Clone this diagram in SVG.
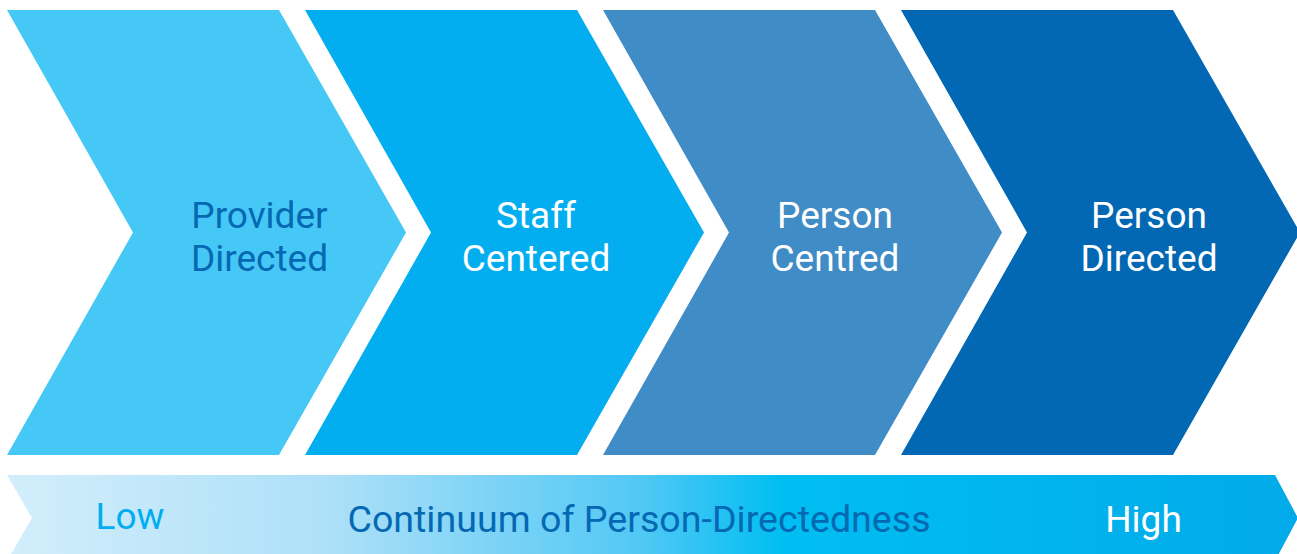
<svg xmlns="http://www.w3.org/2000/svg" width="1297" height="554" viewBox="0 0 1297 554">
  <style>
    .lbl { font-family: Roboto, "Liberation Sans", sans-serif; font-size: 37px; text-anchor: middle; }
    .dark { fill: #0568B3; }
    .white { fill: #FFFFFF; }
  </style>
  <defs>
    <linearGradient id="barGrad" x1="7" y1="0" x2="1298" y2="0" gradientUnits="userSpaceOnUse">
      <stop offset="0" stop-color="#D3EEFB"/>
      <stop offset="0.25" stop-color="#ADE0F8"/>
      <stop offset="0.49" stop-color="#52C8F4"/>
      <stop offset="0.6" stop-color="#00BEF2"/>
      <stop offset="1" stop-color="#02AAE9"/>
    </linearGradient>
  </defs>
  <rect width="1297" height="554" fill="#FFFFFF"/>

  <g id="node-provider-directed">
    <polygon points="7,10 279,10 406,232.5 279,455 7,455 133,232.5" fill="#45C8F5"/>
    <text class="lbl dark" x="259.5" y="228">Provider</text>
    <text class="lbl dark" x="259.5" y="271">Directed</text>
  </g>
  <g id="node-staff-centered">
    <polygon points="305,10 577,10 704,232.5 577,455 305,455 431,232.5" fill="#02AEEF"/>
    <text class="lbl white" x="536" y="228">Staff</text>
    <text class="lbl white" x="536" y="271">Centered</text>
  </g>
  <g id="node-person-centred">
    <polygon points="603,10 875,10 1002,232.5 875,455 603,455 729,232.5" fill="#408CC6"/>
    <text class="lbl white" x="835" y="228">Person</text>
    <text class="lbl white" x="835" y="271">Centred</text>
  </g>
  <g id="node-person-directed">
    <polygon points="901,10 1173,10 1300,232.5 1173,455 901,455 1027,232.5" fill="#0268B4"/>
    <text class="lbl white" x="1149" y="228">Person</text>
    <text class="lbl white" x="1149" y="271">Directed</text>
  </g>

  <g id="continuum-bar">
    <polygon points="7,475 1275,475 1298,518 1275,561 7,561 32,518" fill="url(#barGrad)"/>
    <text class="lbl" x="95.5" y="529" style="text-anchor:start" fill="#00AEEF">Low</text>
    <text class="lbl dark" x="639" y="532" style="font-size:37.6px">Continuum of Person-Directedness</text>
    <text class="lbl white" x="1143.5" y="532">High</text>
  </g>

  <g id="connectors"></g>
</svg>
